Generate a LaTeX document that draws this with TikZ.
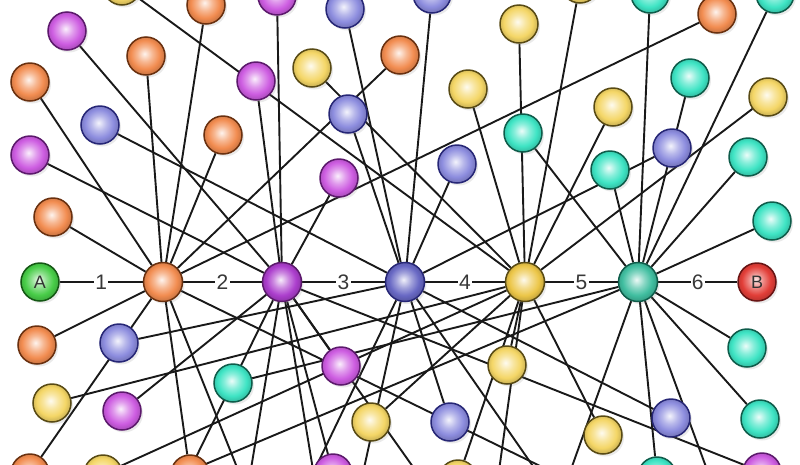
\documentclass[tikz,border=0pt]{standalone}
\usepackage{fontspec}
\setsansfont{Liberation Sans}
\usetikzlibrary{shadows}
\definecolor{orC}{RGB}{242,140,80}  \definecolor{orD}{RGB}{105,48,15}
\definecolor{puC}{RGB}{205,92,225}  \definecolor{puD}{RGB}{92,25,108}
\definecolor{blC}{RGB}{140,140,222} \definecolor{blD}{RGB}{38,38,118}
\definecolor{yeC}{RGB}{244,214,102} \definecolor{yeD}{RGB}{88,74,20}
\definecolor{teC}{RGB}{62,228,196}  \definecolor{teD}{RGB}{14,92,74}
\definecolor{grC}{RGB}{72,205,72}   \definecolor{grD}{RGB}{20,88,20}
\definecolor{reC}{RGB}{226,62,56}   \definecolor{reD}{RGB}{105,20,20}
\definecolor{puH}{RGB}{172,62,205}  \definecolor{blH}{RGB}{104,104,196}
\definecolor{yeH}{RGB}{236,198,72}  \definecolor{teH}{RGB}{64,190,160}
\colorlet{ballc}{white}
\pgfdeclareradialshading[ballc]{myball}{\pgfpoint{-2bp}{3bp}}{color(0bp)=(ballc!10!white); color(10bp)=(ballc!62!white); color(19bp)=(ballc); color(25bp)=(ballc!85!black); color(50bp)=(ballc!85!black)}
\pgfdeclarelayer{bg}
\pgfdeclarelayer{edges}
\pgfsetlayers{bg,edges,main}
\tikzset{
  bc/.code={\colorlet{ballc}{#1}},
  bnode/.style={circle, minimum size=38pt, inner sep=0pt, line width=1.5pt, shade, shading=myball,
    drop shadow={shadow xshift=2pt, shadow yshift=-2.5pt, opacity=0.16},
    font=\sffamily\fontsize{18}{18}\selectfont, text=black!80},
  orN/.style={bnode, bc=orC, draw=orD},
  puN/.style={bnode, bc=puC, draw=puD},
  blN/.style={bnode, bc=blC, draw=blD},
  yeN/.style={bnode, bc=yeC, draw=yeD},
  teN/.style={bnode, bc=teC, draw=teD},
  hubN/.style={minimum size=39pt},
  lnk/.style={line width=1.9pt, draw=black!90},
  lbl/.style={fill=white, inner sep=1.2pt, font=\sffamily\fontsize{21}{21}\selectfont, text=black!78}
}
\begin{document}
\begin{tikzpicture}[x=1pt,y=-1pt]
\begin{pgfonlayer}{bg}
\fill[white] (0,0) rectangle (800,464);
\end{pgfonlayer}
\useasboundingbox (0,0) rectangle (800,464);
% hubs
\node[bnode, bc=grC, draw=grD] (A) at (40,282) {A};
\node[orN, hubN] (H1) at (163,282) {};
\node[bnode, hubN, bc=puH, draw=puD] (H2) at (282,282) {};
\node[bnode, hubN, bc=blH, draw=blD] (H3) at (405,282) {};
\node[bnode, hubN, bc=yeH, draw=yeD] (H4) at (525,282) {};
\node[bnode, hubN, bc=teH, draw=teD] (H5) at (638,282) {};
\node[bnode, bc=reC, draw=reD] (B) at (757,282) {B};
% orange
\node[orN] (O1) at (206,5) {};
\node[orN] (O2) at (717,14) {};
\node[orN] (O3) at (146,56) {};
\node[orN] (O4) at (400,55) {};
\node[orN] (O5) at (30,82) {};
\node[orN] (O6) at (223,135) {};
\node[orN] (O7) at (53,217) {};
\node[orN] (O8) at (37,345) {};
\node[orN] (O9) at (30,473) {};
\node[orN] (O10) at (190,474) {};
% purple
\node[puN] (P1) at (277,-4) {};
\node[puN] (P2) at (67,31) {};
\node[puN] (P3) at (256,81) {};
\node[puN] (P4) at (30,155) {};
\node[puN] (P5) at (339,178) {};
\node[puN] (P6) at (122,411) {};
\node[puN] (P7) at (341,366) {};
\node[puN] (P8) at (333,473) {};
\node[puN] (P9) at (762,472) {};
% blue
\node[blN] (B1) at (345,9) {};
\node[blN] (B2) at (432,-6) {};
\node[blN] (B3) at (348,114) {};
\node[blN] (B4) at (100,125) {};
\node[blN] (B5) at (672,148) {};
\node[blN] (B6) at (457,164) {};
\node[blN] (B7) at (119,343) {};
\node[blN] (B8) at (450,422) {};
\node[blN] (B9) at (671,418) {};
% yellow
\node[yeN] (Y0) at (122,-14) {};
\node[yeN] (Y1) at (519,24) {};
\node[yeN] (Y2) at (580,-16) {};
\node[yeN] (Y3) at (312,68) {};
\node[yeN] (Y4) at (468,89) {};
\node[yeN] (Y5) at (613,107) {};
\node[yeN] (Y6) at (768,97) {};
\node[yeN] (Y7) at (52,403) {};
\node[yeN] (Y8) at (103,474) {};
\node[yeN] (Y9) at (371,422) {};
\node[yeN] (Y10) at (507,365) {};
\node[yeN] (Y11) at (458,479) {};
\node[yeN] (Y12) at (603,435) {};
% teal
\node[teN] (T1) at (650,-6) {};
\node[teN] (T2) at (775,-6) {};
\node[teN] (T3) at (690,78) {};
\node[teN] (T4) at (523,133) {};
\node[teN] (T5) at (748,157) {};
\node[teN] (T6) at (610,170) {};
\node[teN] (T7) at (772,221) {};
\node[teN] (T8) at (233,383) {};
\node[teN] (T9) at (747,348) {};
\node[teN] (T10) at (760,419) {};
\node[teN] (T11) at (657,476) {};
% off-canvas ends
\coordinate (c1) at (175,500);
\coordinate (c2) at (144,490);
\coordinate (c3) at (620,505);
\coordinate (c4) at (250,500);
\coordinate (c5) at (300,500);
\coordinate (c6) at (357,500);
\coordinate (c7) at (440,505);
\coordinate (c8) at (495,500);
\coordinate (c9) at (560,500);
\coordinate (c10) at (720,505);
\coordinate (c11) at (560,505);
\coordinate (c12) at (245,505);
\coordinate (c13) at (318,500);
\begin{pgfonlayer}{edges}
\foreach \n in {O1,O2,O3,O4,O5,O6,O7,O8,O9,O10,c3,c4} \draw[lnk] (\n) -- (H1);
\foreach \n in {P1,P2,P3,P4,P5,P6,P7,P8,P9,c1,c7,c12,c13} \draw[lnk] (\n) -- (H2);
\foreach \n in {B1,B2,B3,B4,B5,B6,B7,B8,B9,c5,c6,c11} \draw[lnk] (\n) -- (H3);
\foreach \n in {Y0,Y1,Y2,Y3,Y4,Y5,Y6,Y7,Y8,Y9,Y10,Y11,Y12,c8} \draw[lnk] (\n) -- (H4);
\foreach \n in {T1,T2,T3,T4,T5,T6,T7,T8,T9,T10,T11,c2,c9,c10} \draw[lnk] (\n) -- (H5);
\draw[lnk] (A) -- node[lbl]{1} (H1);
\draw[lnk] (H1) -- node[lbl]{2} (H2);
\draw[lnk] (H2) -- node[lbl]{3} (H3);
\draw[lnk] (H3) -- node[lbl]{4} (H4);
\draw[lnk] (H4) -- node[lbl]{5} (H5);
\draw[lnk] (H5) -- node[lbl]{6} (B);
\end{pgfonlayer}
\end{tikzpicture}
\end{document}
